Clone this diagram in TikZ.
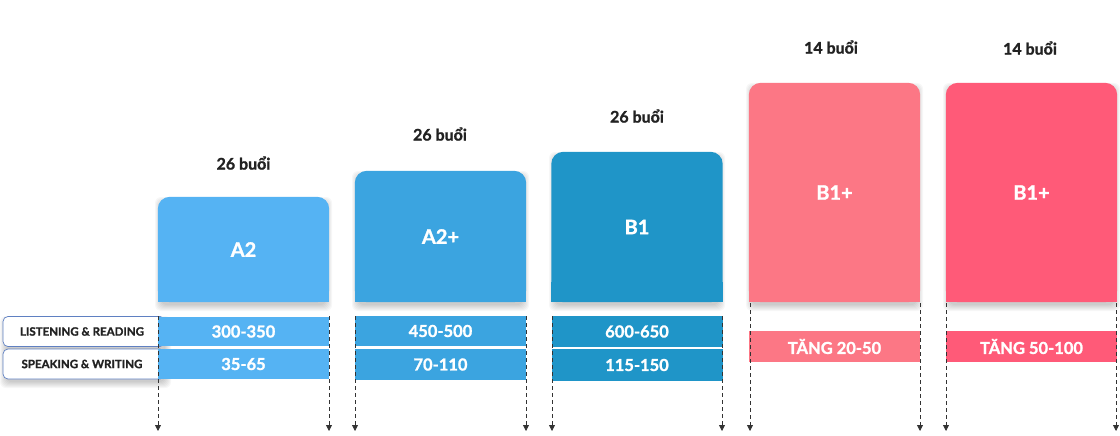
\documentclass[tikz,border=0pt]{standalone}
\usepackage{fontspec}
\setmainfont{Lato}[BoldFeatures={FakeBold=1.3}]
\usetikzlibrary{arrows.meta,backgrounds}
\definecolor{cA}{HTML}{55B3F3}
\definecolor{cB}{HTML}{3BA4E0}
\definecolor{cC}{HTML}{1F95C8}
\definecolor{cD}{HTML}{FC7785}
\definecolor{cE}{HTML}{FF5A78}
\definecolor{txt}{HTML}{222222}
\definecolor{lblborder}{HTML}{5F80C2}
\definecolor{arr}{HTML}{333333}
\tikzset{
  colbox/.style={inner sep=0pt, minimum width=171pt, text=white, font=\fontsize{20}{23}\selectfont\bfseries},
  rowbar/.style={inner sep=0pt, minimum width=171pt, text=white, font=\fontsize{16.5}{19}\selectfont\bfseries},
  sessions/.style={text=txt, font=\fontsize{16}{19}\selectfont\bfseries},
  lbl/.style={draw=lblborder, line width=0.7pt, fill=white, rounded corners=5pt, inner sep=0pt,
    minimum width=162pt, text=txt, font=\fontsize{11.5}{13}\selectfont\bfseries},
  guide/.style={draw=arr, line width=0.8pt, dash pattern=on 4pt off 3pt, -{Triangle[width=6pt,length=6pt]}},
}
\newcommand\softshade[4]{%
  \foreach \k in {0,...,6}{%
    \fill[black,opacity=0.032,rounded corners=6pt] (#1+3-\k,#2+6-\k) rectangle (#3-3+\k,#4+3+\k);}}
\begin{document}
\begin{tikzpicture}[x=1pt,y=-1pt]
\useasboundingbox (0,0) rectangle (1120,436);

% label shadow
\softshade{3}{316}{168}{379}

% session counts
\node[sessions] (t1) at (243.5,163) {26 buổi};
\node[sessions] (t2) at (440,134) {26 buổi};
\node[sessions] (t3) at (637,116) {26 buổi};
\node[sessions] (t4) at (831,47) {14 buổi};
\node[sessions] (t5) at (1030,48) {14 buổi};

% level boxes
\node[colbox, minimum height=105pt] (b1) at (243.5,249.5) {A2};
\node[colbox, minimum height=131pt] (b2) at (440.5,236.5) {A2+};
\node[colbox, minimum height=150pt] (b3) at (637,227) {B1};
\node[colbox, minimum height=219pt] (b4) at (834.5,192.5) {B1+};
\node[colbox, minimum height=219pt] (b5) at (1031.5,192.5) {B1+};
\begin{scope}[on background layer]
  \softshade{158}{197}{329}{302}
  \softshade{355}{171}{526}{302}
  \softshade{552}{152}{722}{302}
  \softshade{749}{83}{920}{302}
  \softshade{946}{83}{1117}{302}
  \foreach \n/\c in {b1/cA,b2/cB,b3/cC,b4/cD,b5/cE}{
    \fill[\c,rounded corners=12pt] (\n.south west) rectangle (\n.north east);
    \fill[\c] (\n.south west) rectangle ([yshift=20pt]\n.south east);
  }
\end{scope}

% skill labels
\node[lbl, minimum height=30pt] (l1) at (84,331.5) {\hspace*{-4pt}LISTENING \& READING};
\node[lbl, minimum height=30pt] (l2) at (84,364) {\hspace*{-4pt}SPEAKING \& WRITING};

% score bars
\node[rowbar, fill=cA, minimum height=29pt] (r11) at (243.5,331.5) {300-350};
\node[rowbar, fill=cA, minimum height=30pt] (r12) at (243.5,364) {35-65};
\node[rowbar, fill=cB, minimum height=30pt] (r21) at (440.5,331) {450-500};
\node[rowbar, fill=cB, minimum height=31pt] (r22) at (440.5,364.5) {70-110};
\node[rowbar, fill=cC, minimum height=31pt] (r31) at (637,331.5) {600-650};
\node[rowbar, fill=cC, minimum height=32pt] (r32) at (637,365) {115-150};
\node[rowbar, fill=cD, minimum height=31pt] (r41) at (834.5,346.5) {TĂNG 20-50};
\node[rowbar, fill=cE, minimum height=31pt] (r51) at (1031.5,346.5) {TĂNG 50-100};

% guide lines
\foreach \n/\x/\y in {g1a/158/316, g1b/329/316, g2a/355/316, g2b/526/316, g3a/552/316, g3b/722/316,
                      g4a/750/303, g4b/920/303, g5a/946/303, g5b/1116/303}{
  \coordinate (\n s) at (\x,\y);
  \coordinate (\n e) at (\x,431);
  \draw[guide] (\n s) -- (\n e);
}
\end{tikzpicture}
\end{document}
